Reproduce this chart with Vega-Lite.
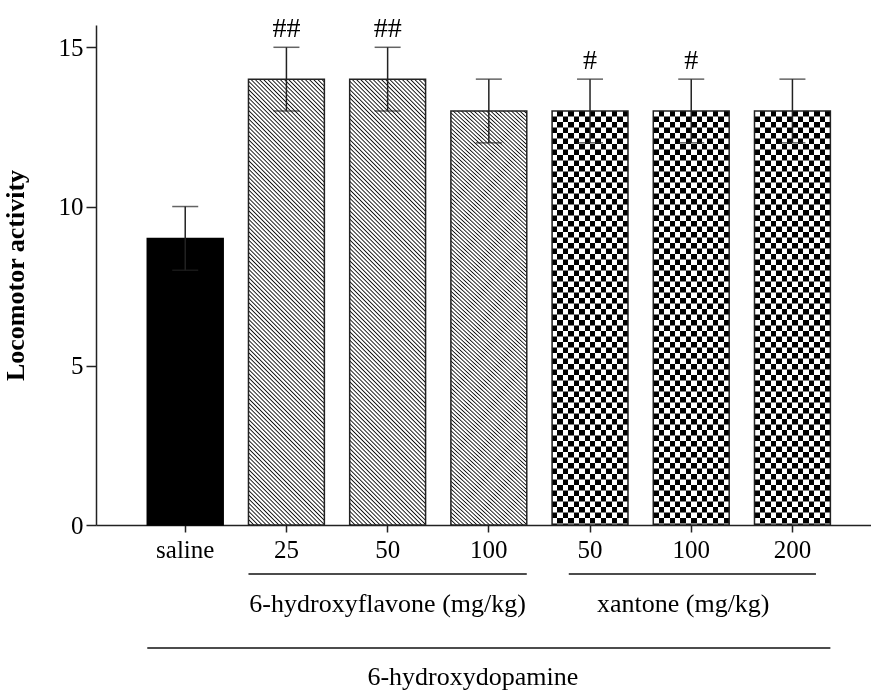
{
  "$schema": "https://vega.github.io/schema/vega-lite/v6.json",
  "background": "white",
  "padding": {"left": 2, "top": 15, "right": 0, "bottom": 0},
  "spacing": 10,
  "config": {
    "view": {"stroke": null},
    "font": "Liberation Serif",
    "axis": {
      "labelFont": "Liberation Serif",
      "titleFont": "Liberation Serif",
      "labelColor": "#000",
      "titleColor": "#000",
      "domainColor": "#222",
      "tickColor": "#222",
      "domainWidth": 1.5,
      "tickWidth": 1.5,
      "grid": false,
      "labelFontSize": 25
    },
    "axisY": {"tickSize": 10, "labelPadding": 3, "titleFontSize": 26, "titleFontWeight": "bold", "titlePadding": 30},
    "axisX": {"tickSize": 7, "labelPadding": 5, "labelAngle": 0}
  },
  "datasets": {
    "groups": [
      {"id": "saline", "group": "control", "mean": 9, "lo": 8, "hi": 10, "sig": ""},
      {"id": "F25", "group": "flavone", "mean": 14, "lo": 13, "hi": 15, "sig": "##"},
      {"id": "F50", "group": "flavone", "mean": 14, "lo": 13, "hi": 15, "sig": "##"},
      {"id": "F100", "group": "flavone", "mean": 13, "lo": 12, "hi": 14, "sig": ""},
      {"id": "X50", "group": "xantone", "mean": 13, "lo": 12, "hi": 14, "sig": "#"},
      {"id": "X100", "group": "xantone", "mean": 13, "lo": 12, "hi": 14, "sig": "#"},
      {"id": "X200", "group": "xantone", "mean": 13, "lo": 12, "hi": 14, "sig": ""}
    ],
    "brackets": [
      {"name": "6-hydroxyflavone (mg/kg)", "from": "F25", "to": "F100", "mid": "F50", "tier": "drug"},
      {"name": "xantone (mg/kg)", "from": "X50", "to": "X200", "mid": "X100", "tier": "drug"},
      {"name": "6-hydroxydopamine", "from": "saline", "to": "X200", "mid": "F100", "tier": "toxin"}
    ]
  },
  "resolve": {"scale": {"x": "shared"}},
  "vconcat": [
    {
      "width": 775,
      "height": 500,
      "data": {"name": "groups"},
      "encoding": {
        "x": {
          "field": "id",
          "type": "nominal",
          "title": null,
          "scale": {
            "type": "band",
            "domain": ["saline", "F25", "F50", "F100", "X50", "X100", "X200"],
            "paddingInner": 0.25,
            "paddingOuter": 0.454,
            "align": 0.558,
            "round": false
          },
          "axis": {"labelExpr": "replace(datum.label, regexp('^[FX]'), '')"}
        }
      },
      "layer": [
        {
          "transform": [{"filter": "datum.group === 'control'"}],
          "mark": {"type": "bar", "fill": "#000", "stroke": "#000", "strokeWidth": 1.5},
          "encoding": {
            "y": {"field": "mean", "type": "quantitative", "title": "Locomotor activity", "scale": {"domain": [0, 15.7], "nice": false}, "axis": {"values": [0, 5, 10, 15]}}
          }
        },
        {
          "transform": [{"filter": "datum.group === 'flavone'"}],
          "mark": {
            "type": "bar",
            "stroke": "#222",
            "strokeWidth": 1.5,
            "fill": {
              "gradient": "linear",
              "x1": 0, "y1": 1, "x2": 0.194, "y2": -0.1375,
              "stops": [
                {"offset":0,"color":"#fff"},{"offset":0.0025,"color":"#111"},{"offset":0.005,"color":"#fff"},
                {"offset":0.008,"color":"#fff"},{"offset":0.0105,"color":"#111"},{"offset":0.013,"color":"#fff"},
                {"offset":0.016,"color":"#fff"},{"offset":0.0185,"color":"#111"},{"offset":0.021,"color":"#fff"},
                {"offset":0.024,"color":"#fff"},{"offset":0.0265,"color":"#111"},{"offset":0.029,"color":"#fff"},
                {"offset":0.032,"color":"#fff"},{"offset":0.0345,"color":"#111"},{"offset":0.037,"color":"#fff"},
                {"offset":0.04,"color":"#fff"},{"offset":0.0425,"color":"#111"},{"offset":0.045,"color":"#fff"},
                {"offset":0.048,"color":"#fff"},{"offset":0.0505,"color":"#111"},{"offset":0.053,"color":"#fff"},
                {"offset":0.056,"color":"#fff"},{"offset":0.0585,"color":"#111"},{"offset":0.061,"color":"#fff"},
                {"offset":0.064,"color":"#fff"},{"offset":0.0665,"color":"#111"},{"offset":0.069,"color":"#fff"},
                {"offset":0.072,"color":"#fff"},{"offset":0.0745,"color":"#111"},{"offset":0.077,"color":"#fff"},
                {"offset":0.08,"color":"#fff"},{"offset":0.0825,"color":"#111"},{"offset":0.085,"color":"#fff"},
                {"offset":0.088,"color":"#fff"},{"offset":0.0905,"color":"#111"},{"offset":0.093,"color":"#fff"},
                {"offset":0.096,"color":"#fff"},{"offset":0.0985,"color":"#111"},{"offset":0.101,"color":"#fff"},
                {"offset":0.104,"color":"#fff"},{"offset":0.1065,"color":"#111"},{"offset":0.109,"color":"#fff"},
                {"offset":0.112,"color":"#fff"},{"offset":0.1145,"color":"#111"},{"offset":0.117,"color":"#fff"},
                {"offset":0.12,"color":"#fff"},{"offset":0.1225,"color":"#111"},{"offset":0.125,"color":"#fff"},
                {"offset":0.128,"color":"#fff"},{"offset":0.1305,"color":"#111"},{"offset":0.133,"color":"#fff"},
                {"offset":0.136,"color":"#fff"},{"offset":0.1385,"color":"#111"},{"offset":0.141,"color":"#fff"},
                {"offset":0.144,"color":"#fff"},{"offset":0.1465,"color":"#111"},{"offset":0.149,"color":"#fff"},
                {"offset":0.152,"color":"#fff"},{"offset":0.1545,"color":"#111"},{"offset":0.157,"color":"#fff"},
                {"offset":0.16,"color":"#fff"},{"offset":0.1625,"color":"#111"},{"offset":0.165,"color":"#fff"},
                {"offset":0.168,"color":"#fff"},{"offset":0.1705,"color":"#111"},{"offset":0.173,"color":"#fff"},
                {"offset":0.176,"color":"#fff"},{"offset":0.1785,"color":"#111"},{"offset":0.181,"color":"#fff"},
                {"offset":0.184,"color":"#fff"},{"offset":0.1865,"color":"#111"},{"offset":0.189,"color":"#fff"},
                {"offset":0.192,"color":"#fff"},{"offset":0.1945,"color":"#111"},{"offset":0.197,"color":"#fff"},
                {"offset":0.2,"color":"#fff"},{"offset":0.2025,"color":"#111"},{"offset":0.205,"color":"#fff"},
                {"offset":0.208,"color":"#fff"},{"offset":0.2105,"color":"#111"},{"offset":0.213,"color":"#fff"},
                {"offset":0.216,"color":"#fff"},{"offset":0.2185,"color":"#111"},{"offset":0.221,"color":"#fff"},
                {"offset":0.224,"color":"#fff"},{"offset":0.2265,"color":"#111"},{"offset":0.229,"color":"#fff"},
                {"offset":0.232,"color":"#fff"},{"offset":0.2345,"color":"#111"},{"offset":0.237,"color":"#fff"},
                {"offset":0.24,"color":"#fff"},{"offset":0.2425,"color":"#111"},{"offset":0.245,"color":"#fff"},
                {"offset":0.248,"color":"#fff"},{"offset":0.2505,"color":"#111"},{"offset":0.253,"color":"#fff"},
                {"offset":0.256,"color":"#fff"},{"offset":0.2585,"color":"#111"},{"offset":0.261,"color":"#fff"},
                {"offset":0.264,"color":"#fff"},{"offset":0.2665,"color":"#111"},{"offset":0.269,"color":"#fff"},
                {"offset":0.272,"color":"#fff"},{"offset":0.2745,"color":"#111"},{"offset":0.277,"color":"#fff"},
                {"offset":0.28,"color":"#fff"},{"offset":0.2825,"color":"#111"},{"offset":0.285,"color":"#fff"},
                {"offset":0.288,"color":"#fff"},{"offset":0.2905,"color":"#111"},{"offset":0.293,"color":"#fff"},
                {"offset":0.296,"color":"#fff"},{"offset":0.2985,"color":"#111"},{"offset":0.301,"color":"#fff"},
                {"offset":0.304,"color":"#fff"},{"offset":0.3065,"color":"#111"},{"offset":0.309,"color":"#fff"},
                {"offset":0.312,"color":"#fff"},{"offset":0.3145,"color":"#111"},{"offset":0.317,"color":"#fff"},
                {"offset":0.32,"color":"#fff"},{"offset":0.3225,"color":"#111"},{"offset":0.325,"color":"#fff"},
                {"offset":0.328,"color":"#fff"},{"offset":0.3305,"color":"#111"},{"offset":0.333,"color":"#fff"},
                {"offset":0.336,"color":"#fff"},{"offset":0.3385,"color":"#111"},{"offset":0.341,"color":"#fff"},
                {"offset":0.344,"color":"#fff"},{"offset":0.3465,"color":"#111"},{"offset":0.349,"color":"#fff"},
                {"offset":0.352,"color":"#fff"},{"offset":0.3545,"color":"#111"},{"offset":0.357,"color":"#fff"},
                {"offset":0.36,"color":"#fff"},{"offset":0.3625,"color":"#111"},{"offset":0.365,"color":"#fff"},
                {"offset":0.368,"color":"#fff"},{"offset":0.3705,"color":"#111"},{"offset":0.373,"color":"#fff"},
                {"offset":0.376,"color":"#fff"},{"offset":0.3785,"color":"#111"},{"offset":0.381,"color":"#fff"},
                {"offset":0.384,"color":"#fff"},{"offset":0.3865,"color":"#111"},{"offset":0.389,"color":"#fff"},
                {"offset":0.392,"color":"#fff"},{"offset":0.3945,"color":"#111"},{"offset":0.397,"color":"#fff"},
                {"offset":0.4,"color":"#fff"},{"offset":0.4025,"color":"#111"},{"offset":0.405,"color":"#fff"},
                {"offset":0.408,"color":"#fff"},{"offset":0.4105,"color":"#111"},{"offset":0.413,"color":"#fff"},
                {"offset":0.416,"color":"#fff"},{"offset":0.4185,"color":"#111"},{"offset":0.421,"color":"#fff"},
                {"offset":0.424,"color":"#fff"},{"offset":0.4265,"color":"#111"},{"offset":0.429,"color":"#fff"},
                {"offset":0.432,"color":"#fff"},{"offset":0.4345,"color":"#111"},{"offset":0.437,"color":"#fff"},
                {"offset":0.44,"color":"#fff"},{"offset":0.4425,"color":"#111"},{"offset":0.445,"color":"#fff"},
                {"offset":0.448,"color":"#fff"},{"offset":0.4505,"color":"#111"},{"offset":0.453,"color":"#fff"},
                {"offset":0.456,"color":"#fff"},{"offset":0.4585,"color":"#111"},{"offset":0.461,"color":"#fff"},
                {"offset":0.464,"color":"#fff"},{"offset":0.4665,"color":"#111"},{"offset":0.469,"color":"#fff"},
                {"offset":0.472,"color":"#fff"},{"offset":0.4745,"color":"#111"},{"offset":0.477,"color":"#fff"},
                {"offset":0.48,"color":"#fff"},{"offset":0.4825,"color":"#111"},{"offset":0.485,"color":"#fff"},
                {"offset":0.488,"color":"#fff"},{"offset":0.4905,"color":"#111"},{"offset":0.493,"color":"#fff"},
                {"offset":0.496,"color":"#fff"},{"offset":0.4985,"color":"#111"},{"offset":0.501,"color":"#fff"},
                {"offset":0.504,"color":"#fff"},{"offset":0.5065,"color":"#111"},{"offset":0.509,"color":"#fff"},
                {"offset":0.512,"color":"#fff"},{"offset":0.5145,"color":"#111"},{"offset":0.517,"color":"#fff"},
                {"offset":0.52,"color":"#fff"},{"offset":0.5225,"color":"#111"},{"offset":0.525,"color":"#fff"},
                {"offset":0.528,"color":"#fff"},{"offset":0.5305,"color":"#111"},{"offset":0.533,"color":"#fff"},
                {"offset":0.536,"color":"#fff"},{"offset":0.5385,"color":"#111"},{"offset":0.541,"color":"#fff"},
                {"offset":0.544,"color":"#fff"},{"offset":0.5465,"color":"#111"},{"offset":0.549,"color":"#fff"},
                {"offset":0.552,"color":"#fff"},{"offset":0.5545,"color":"#111"},{"offset":0.557,"color":"#fff"},
                {"offset":0.56,"color":"#fff"},{"offset":0.5625,"color":"#111"},{"offset":0.565,"color":"#fff"},
                {"offset":0.568,"color":"#fff"},{"offset":0.5705,"color":"#111"},{"offset":0.573,"color":"#fff"},
                {"offset":0.576,"color":"#fff"},{"offset":0.5785,"color":"#111"},{"offset":0.581,"color":"#fff"},
                {"offset":0.584,"color":"#fff"},{"offset":0.5865,"color":"#111"},{"offset":0.589,"color":"#fff"},
                {"offset":0.592,"color":"#fff"},{"offset":0.5945,"color":"#111"},{"offset":0.597,"color":"#fff"},
                {"offset":0.6,"color":"#fff"},{"offset":0.6025,"color":"#111"},{"offset":0.605,"color":"#fff"},
                {"offset":0.608,"color":"#fff"},{"offset":0.6105,"color":"#111"},{"offset":0.613,"color":"#fff"},
                {"offset":0.616,"color":"#fff"},{"offset":0.6185,"color":"#111"},{"offset":0.621,"color":"#fff"},
                {"offset":0.624,"color":"#fff"},{"offset":0.6265,"color":"#111"},{"offset":0.629,"color":"#fff"},
                {"offset":0.632,"color":"#fff"},{"offset":0.6345,"color":"#111"},{"offset":0.637,"color":"#fff"},
                {"offset":0.64,"color":"#fff"},{"offset":0.6425,"color":"#111"},{"offset":0.645,"color":"#fff"},
                {"offset":0.648,"color":"#fff"},{"offset":0.6505,"color":"#111"},{"offset":0.653,"color":"#fff"},
                {"offset":0.656,"color":"#fff"},{"offset":0.6585,"color":"#111"},{"offset":0.661,"color":"#fff"},
                {"offset":0.664,"color":"#fff"},{"offset":0.6665,"color":"#111"},{"offset":0.669,"color":"#fff"},
                {"offset":0.672,"color":"#fff"},{"offset":0.6745,"color":"#111"},{"offset":0.677,"color":"#fff"},
                {"offset":0.68,"color":"#fff"},{"offset":0.6825,"color":"#111"},{"offset":0.685,"color":"#fff"},
                {"offset":0.688,"color":"#fff"},{"offset":0.6905,"color":"#111"},{"offset":0.693,"color":"#fff"},
                {"offset":0.696,"color":"#fff"},{"offset":0.6985,"color":"#111"},{"offset":0.701,"color":"#fff"},
                {"offset":0.704,"color":"#fff"},{"offset":0.7065,"color":"#111"},{"offset":0.709,"color":"#fff"},
                {"offset":0.712,"color":"#fff"},{"offset":0.7145,"color":"#111"},{"offset":0.717,"color":"#fff"},
                {"offset":0.72,"color":"#fff"},{"offset":0.7225,"color":"#111"},{"offset":0.725,"color":"#fff"},
                {"offset":0.728,"color":"#fff"},{"offset":0.7305,"color":"#111"},{"offset":0.733,"color":"#fff"},
                {"offset":0.736,"color":"#fff"},{"offset":0.7385,"color":"#111"},{"offset":0.741,"color":"#fff"},
                {"offset":0.744,"color":"#fff"},{"offset":0.7465,"color":"#111"},{"offset":0.749,"color":"#fff"},
                {"offset":0.752,"color":"#fff"},{"offset":0.7545,"color":"#111"},{"offset":0.757,"color":"#fff"},
                {"offset":0.76,"color":"#fff"},{"offset":0.7625,"color":"#111"},{"offset":0.765,"color":"#fff"},
                {"offset":0.768,"color":"#fff"},{"offset":0.7705,"color":"#111"},{"offset":0.773,"color":"#fff"},
                {"offset":0.776,"color":"#fff"},{"offset":0.7785,"color":"#111"},{"offset":0.781,"color":"#fff"},
                {"offset":0.784,"color":"#fff"},{"offset":0.7865,"color":"#111"},{"offset":0.789,"color":"#fff"},
                {"offset":0.792,"color":"#fff"},{"offset":0.7945,"color":"#111"},{"offset":0.797,"color":"#fff"},
                {"offset":0.8,"color":"#fff"},{"offset":0.8025,"color":"#111"},{"offset":0.805,"color":"#fff"},
                {"offset":0.808,"color":"#fff"},{"offset":0.8105,"color":"#111"},{"offset":0.813,"color":"#fff"},
                {"offset":0.816,"color":"#fff"},{"offset":0.8185,"color":"#111"},{"offset":0.821,"color":"#fff"},
                {"offset":0.824,"color":"#fff"},{"offset":0.8265,"color":"#111"},{"offset":0.829,"color":"#fff"},
                {"offset":0.832,"color":"#fff"},{"offset":0.8345,"color":"#111"},{"offset":0.837,"color":"#fff"},
                {"offset":0.84,"color":"#fff"},{"offset":0.8425,"color":"#111"},{"offset":0.845,"color":"#fff"},
                {"offset":0.848,"color":"#fff"},{"offset":0.8505,"color":"#111"},{"offset":0.853,"color":"#fff"},
                {"offset":0.856,"color":"#fff"},{"offset":0.8585,"color":"#111"},{"offset":0.861,"color":"#fff"},
                {"offset":0.864,"color":"#fff"},{"offset":0.8665,"color":"#111"},{"offset":0.869,"color":"#fff"},
                {"offset":0.872,"color":"#fff"},{"offset":0.8745,"color":"#111"},{"offset":0.877,"color":"#fff"},
                {"offset":0.88,"color":"#fff"},{"offset":0.8825,"color":"#111"},{"offset":0.885,"color":"#fff"},
                {"offset":0.888,"color":"#fff"},{"offset":0.8905,"color":"#111"},{"offset":0.893,"color":"#fff"},
                {"offset":0.896,"color":"#fff"},{"offset":0.8985,"color":"#111"},{"offset":0.901,"color":"#fff"},
                {"offset":0.904,"color":"#fff"},{"offset":0.9065,"color":"#111"},{"offset":0.909,"color":"#fff"},
                {"offset":0.912,"color":"#fff"},{"offset":0.9145,"color":"#111"},{"offset":0.917,"color":"#fff"},
                {"offset":0.92,"color":"#fff"},{"offset":0.9225,"color":"#111"},{"offset":0.925,"color":"#fff"},
                {"offset":0.928,"color":"#fff"},{"offset":0.9305,"color":"#111"},{"offset":0.933,"color":"#fff"},
                {"offset":0.936,"color":"#fff"},{"offset":0.9385,"color":"#111"},{"offset":0.941,"color":"#fff"},
                {"offset":0.944,"color":"#fff"},{"offset":0.9465,"color":"#111"},{"offset":0.949,"color":"#fff"},
                {"offset":0.952,"color":"#fff"},{"offset":0.9545,"color":"#111"},{"offset":0.957,"color":"#fff"},
                {"offset":0.96,"color":"#fff"},{"offset":0.9625,"color":"#111"},{"offset":0.965,"color":"#fff"},
                {"offset":0.968,"color":"#fff"},{"offset":0.9705,"color":"#111"},{"offset":0.973,"color":"#fff"},
                {"offset":0.976,"color":"#fff"},{"offset":0.9785,"color":"#111"},{"offset":0.981,"color":"#fff"},
                {"offset":0.984,"color":"#fff"},{"offset":0.9865,"color":"#111"},{"offset":0.989,"color":"#fff"},
                {"offset":0.992,"color":"#fff"},{"offset":0.9945,"color":"#111"},{"offset":0.997,"color":"#fff"}
              ]
            }
          },
          "encoding": {
            "y": {"field": "mean", "type": "quantitative", "title": "Locomotor activity", "scale": {"domain": [0, 15.7], "nice": false}, "axis": {"values": [0, 5, 10, 15]}}
          }
        },
        {
          "transform": [{"filter": "datum.group === 'xantone'"}],
          "mark": {
            "type": "bar",
            "fill": {
              "gradient": "linear",
              "x1": 0, "y1": 0, "x2": 1, "y2": 0,
              "stops": [
                {"offset":0,"color":"#000"},{"offset":0.0714,"color":"#000"},{"offset":0.0714,"color":"#fff"},{"offset":0.1429,"color":"#fff"},
                {"offset":0.1429,"color":"#000"},{"offset":0.2143,"color":"#000"},{"offset":0.2143,"color":"#fff"},{"offset":0.2857,"color":"#fff"},
                {"offset":0.2857,"color":"#000"},{"offset":0.3571,"color":"#000"},{"offset":0.3571,"color":"#fff"},{"offset":0.4286,"color":"#fff"},
                {"offset":0.4286,"color":"#000"},{"offset":0.5,"color":"#000"},{"offset":0.5,"color":"#fff"},{"offset":0.5714,"color":"#fff"},
                {"offset":0.5714,"color":"#000"},{"offset":0.6429,"color":"#000"},{"offset":0.6429,"color":"#fff"},{"offset":0.7143,"color":"#fff"},
                {"offset":0.7143,"color":"#000"},{"offset":0.7857,"color":"#000"},{"offset":0.7857,"color":"#fff"},{"offset":0.8571,"color":"#fff"},
                {"offset":0.8571,"color":"#000"},{"offset":0.9286,"color":"#000"},{"offset":0.9286,"color":"#fff"},{"offset":1,"color":"#fff"}
              ]
            }
          },
          "encoding": {
            "y": {"field": "mean", "type": "quantitative", "title": "Locomotor activity", "scale": {"domain": [0, 15.7], "nice": false}, "axis": {"values": [0, 5, 10, 15]}}
          }
        },
        {
          "transform": [{"filter": "datum.group === 'xantone'"}],
          "mark": {"type": "rule", "color": "#fff", "strokeWidth": 75.9, "strokeDash": [5.5, 5.5], "blend": "difference"},
          "encoding": {
            "y": {"field": "mean", "type": "quantitative", "title": "Locomotor activity", "scale": {"domain": [0, 15.7], "nice": false}, "axis": {"values": [0, 5, 10, 15]}},
            "y2": {"datum": 0}
          }
        },
        {
          "transform": [{"filter": "datum.group === 'xantone'"}],
          "mark": {"type": "bar", "fillOpacity": 0, "stroke": "#222", "strokeWidth": 1.5},
          "encoding": {
            "y": {"field": "mean", "type": "quantitative", "title": "Locomotor activity", "scale": {"domain": [0, 15.7], "nice": false}, "axis": {"values": [0, 5, 10, 15]}}
          }
        },
        {
          "mark": {"type": "rule", "color": "#222", "strokeWidth": 1.5},
          "encoding": {
            "y": {"field": "lo", "type": "quantitative", "title": "Locomotor activity", "scale": {"domain": [0, 15.7], "nice": false}, "axis": {"values": [0, 5, 10, 15]}},
            "y2": {"field": "hi"}
          }
        },
        {
          "mark": {"type": "tick", "color": "#222", "thickness": 1.5, "size": 26},
          "encoding": {
            "y": {"field": "lo", "type": "quantitative", "title": "Locomotor activity", "scale": {"domain": [0, 15.7], "nice": false}, "axis": {"values": [0, 5, 10, 15]}}
          }
        },
        {
          "mark": {"type": "tick", "color": "#222", "thickness": 1.5, "size": 26},
          "encoding": {
            "y": {"field": "hi", "type": "quantitative", "title": "Locomotor activity", "scale": {"domain": [0, 15.7], "nice": false}, "axis": {"values": [0, 5, 10, 15]}}
          }
        },
        {
          "mark": {"type": "text", "font": "Liberation Serif", "fontSize": 28, "baseline": "middle", "dy": -18, "color": "#000"},
          "encoding": {
            "y": {"field": "hi", "type": "quantitative", "title": "Locomotor activity", "scale": {"domain": [0, 15.7], "nice": false}, "axis": {"values": [0, 5, 10, 15]}},
            "text": {"field": "sig"}
          }
        }
      ]
    },
    {
      "width": 775,
      "height": 74,
      "data": {"name": "brackets"},
      "encoding": {
        "y": {"field": "tier", "type": "nominal", "axis": null, "scale": {"type": "point", "domain": ["drug", "toxin"], "padding": 0}}
      },
      "layer": [
        {
          "transform": [{"filter": "datum.name !== 'xantone (mg/kg)'"}],
          "mark": {"type": "rule", "color": "#111", "strokeWidth": 1.5},
          "encoding": {
            "x": {"field": "from", "type": "nominal", "bandPosition": 0, "axis": null},
            "x2": {"field": "to", "bandPosition": 1}
          }
        },
        {
          "transform": [{"filter": "datum.name === 'xantone (mg/kg)'"}],
          "mark": {"type": "rule", "color": "#111", "strokeWidth": 1.5},
          "encoding": {
            "x": {"field": "from", "type": "nominal", "bandPosition": 0.22, "axis": null},
            "x2": {"field": "to", "bandPosition": 0.81}
          }
        },
        {
          "transform": [{"filter": "datum.name === '6-hydroxyflavone (mg/kg)'"}],
          "mark": {"type": "text", "font": "Liberation Serif", "fontSize": 26, "baseline": "middle", "dy": 30, "color": "#000"},
          "encoding": {
            "x": {"field": "mid", "type": "nominal", "axis": null},
            "text": {"field": "name"}
          }
        },
        {
          "transform": [{"filter": "datum.name === 'xantone (mg/kg)'"}],
          "mark": {"type": "text", "font": "Liberation Serif", "fontSize": 26, "baseline": "middle", "dy": 30, "dx": -8, "color": "#000"},
          "encoding": {
            "x": {"field": "mid", "type": "nominal", "axis": null},
            "text": {"field": "name"}
          }
        },
        {
          "transform": [{"filter": "datum.name === '6-hydroxydopamine'"}],
          "mark": {"type": "text", "font": "Liberation Serif", "fontSize": 26, "baseline": "middle", "dy": 29, "dx": -16, "color": "#000"},
          "encoding": {
            "x": {"field": "mid", "type": "nominal", "axis": null},
            "text": {"field": "name"}
          }
        }
      ]
    }
  ]
}
